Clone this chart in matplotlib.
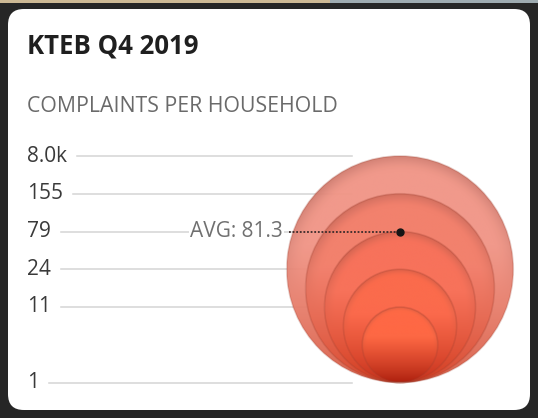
import matplotlib
matplotlib.use("Agg")
import matplotlib.pyplot as plt
import numpy as np
from matplotlib.patches import Circle, FancyBboxPatch, Rectangle
from matplotlib.colors import to_rgb

title = "KTEB Q4 2019"
subtitle = "COMPLAINTS PER HOUSEHOLD"
tick_values = [1, 11, 24, 79, 155, 8000]
tick_labels = ["1", "11", "24", "79", "155", "8.0k"]
band_steps = [0, 2, 3, 4, 5, 6]   # bubble scale: size band of each threshold
avg_value = 81.3
avg_label = "AVG: 81.3"

# layout (pixels of the 538x418 card)
W, H = 538, 418
BASE = 382.5      # pixel row of the lowest band
STEP = 37.75      # pixels per band
CX = 400          # bubble column

plt.rcParams['font.family'] = ['Open Sans', 'DejaVu Sans']

def scale(v):
    return np.interp(np.log10(v), np.log10(tick_values), band_steps)

def px(x, y):
    return x / STEP, (BASE - y) / STEP

fig = plt.figure(figsize=(W / 100, H / 100), dpi=100, facecolor="#262626")
ax = fig.add_axes([0, 0, 1, 1])
ax.set_xlim(0, W / STEP)
ax.set_ylim((BASE - H) / STEP, BASE / STEP)
ax.axis("off")

# card background
x0, y0 = px(8, 410)
x1, y1 = px(530, 9)
ax.add_patch(FancyBboxPatch((x0, y0), x1 - x0, y1 - y0,
                            boxstyle="round,pad=0,rounding_size=0.42",
                            fc="white", ec="none", zorder=0))
sx, sy = px(0, 0)
ax.add_patch(Rectangle((sx, sy - 3 / STEP), 330 / STEP, 3 / STEP, fc="#cdb995", ec="none", zorder=0))
ax.add_patch(Rectangle((sx + 330 / STEP, sy - 3 / STEP), 208 / STEP, 3 / STEP, fc="#9eabb0", ec="none", zorder=0))

fig.text(27 / W, 1 - 46 / H, title, fontsize=18.5, fontweight="bold", color="#1f1f1f", va="center")
fig.text(27 / W, 1 - 107 / H, subtitle, fontsize=15.3, color="#6a6a6a", va="center")

# tick labels and grid lines
fig.canvas.draw()
renderer = fig.canvas.get_renderer()
inv = ax.transData.inverted()
for v, lab in zip(tick_values, tick_labels):
    y = scale(v)
    t = ax.text(px(27, 0)[0], y, lab, fontsize=15, color="#3a3a3a", va="center", ha="left")
    bb = t.get_window_extent(renderer)
    xs = inv.transform((bb.x1 + 10, 0))[0]
    ax.plot([xs, px(352, 0)[0]], [y, y], color="#d4d4d4", lw=1.1, zorder=1)

# bubbles, largest first
tops = ["#f19485", "#f3806c", "#f8725a", "#fc6b4c", "#ff6945"]
bots = ["#d85a42", "#d6482e", "#cf3c20", "#c4301a", "#ad200e"]
rim_col = np.array(to_rgb("#8e4a40"))
cx = px(CX, 0)[0]
vals = [v for v in tick_values if scale(v) > 0][::-1]
n = 240
u, w = np.meshgrid(np.linspace(-1, 1, n), np.linspace(-1, 1, n))
rho = np.sqrt(u ** 2 + w ** 2)
rim = np.clip((rho - 0.86) / 0.14, 0, 1) ** 1.5
tt = (w + 1) / 2
k = np.clip(tt / 0.6, 0, 1) ** 0.85
for v, ct, cb in zip(vals, tops, bots):
    r = scale(v) / 2
    ct_, cb_ = np.array(to_rgb(ct)), np.array(to_rgb(cb))
    col = cb_ + (ct_ - cb_) * k[..., None]
    col = col + (rim_col - col) * (0.35 * rim * np.clip(w + 0.3, 0, 1))[..., None]
    circ = Circle((cx, r), r, transform=ax.transData)
    im = ax.imshow(col, extent=[cx - r, cx + r, 0, 2 * r], origin="lower",
                   interpolation="bilinear", aspect="auto", zorder=2, alpha=0.95)
    im.set_clip_path(circ)
    ax.add_patch(Circle((cx, r), r, fc="none", ec="#a04030", lw=1.2, alpha=0.25, zorder=3))

# average marker
ya = scale(avg_value) - 2 / STEP
ax.text(px(283, 0)[0], ya, avg_label, fontsize=15, color="#707070", ha="right", va="center",
        bbox=dict(fc="white", ec="none", pad=1), zorder=4)
ax.plot([px(289, 0)[0], cx], [ya, ya], color="#3a2a2a", lw=1.3, ls=(0, (1, 1)), zorder=5)
ax.plot([cx], [ya], "o", color="#151515", ms=5, zorder=6)

fig.savefig("out.png", dpi=100, facecolor=fig.get_facecolor())
